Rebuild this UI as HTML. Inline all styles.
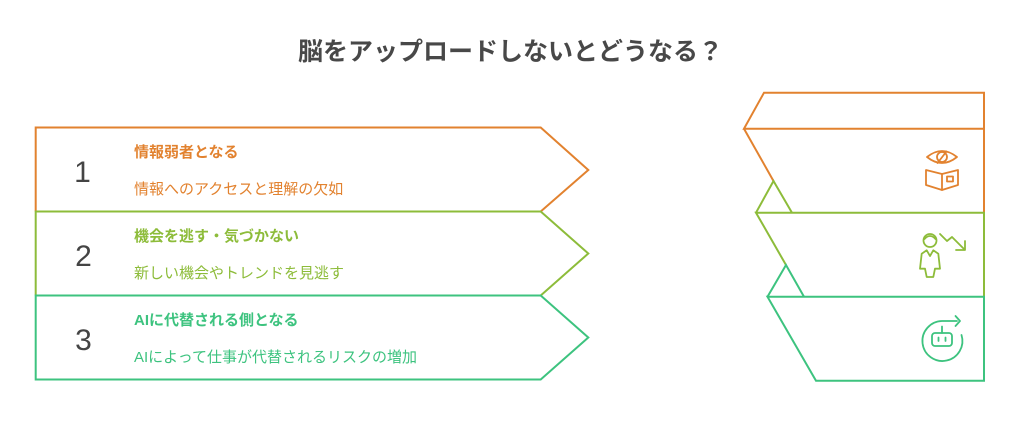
<!DOCTYPE html>
<html>
<head>
<meta charset="utf-8">
<style>
  html, body { margin: 0; padding: 0; background: #ffffff; }
  body { width: 1020px; height: 432px; overflow: hidden; }
  svg { display: block; }
  text { font-family: "Liberation Sans", "Noto Sans CJK JP", sans-serif; }
</style>
</head>
<body>
<svg width="1020" height="432" viewBox="0 0 1020 432" xmlns="http://www.w3.org/2000/svg">
  <rect width="1020" height="432" fill="#ffffff"/>

  <!-- Title -->
  <text x="510.5" y="60" text-anchor="middle" font-size="25" font-weight="bold" fill="#484848">脳をアップロードしないとどうなる？</text>

  <!-- Left arrow rows -->
  <g fill="none" stroke-width="2" stroke-linejoin="miter">
    <path d="M35.7,211.5 L35.7,127.5 L540.7,127.5 L588.3,170 L540.7,211.5" stroke="#E2822F"/>
    <path d="M35.7,295.5 L35.7,211.5 L540.7,211.5 L588.3,253.5 L540.7,295.5" stroke="#8DBC3A"/>
    <path d="M35.7,295.5 L540.7,295.5 L588.3,337.5 L540.7,379.5 L35.7,379.5 Z" stroke="#3DC37F"/>
  </g>

  <!-- Numbers -->
  <g font-size="30" fill="#444444" text-anchor="middle">
    <text x="82.5" y="182">1</text>
    <text x="83.5" y="266">2</text>
    <text x="83.5" y="350">3</text>
  </g>

  <!-- Row texts -->
  <g font-size="15">
    <text x="134" y="157" font-weight="bold" fill="#E2822F">情報弱者となる</text>
    <text x="134" y="194" fill="#E2822F">情報へのアクセスと理解の欠如</text>
    <text x="134" y="241" font-weight="bold" fill="#8DBC3A">機会を逃す・気づかない</text>
    <text x="134" y="278" fill="#8DBC3A">新しい機会やトレンドを見逃す</text>
    <text x="134" y="325" font-weight="bold" fill="#3DC37F">AIに代替される側となる</text>
    <text x="134" y="362" fill="#3DC37F">AIによって仕事が代替されるリスクの増加</text>
  </g>

  <!-- Right stacked shape -->
  <g fill="none" stroke-width="2" stroke-linejoin="miter">
    <!-- orange -->
    <path d="M984,212.7 L984,92.7 L764,92.7 L744,128.7 L984,128.7" stroke="#E2822F"/>
    <path d="M744,128.7 L773.5,181" stroke="#E2822F"/>
    <!-- green -->
    <path d="M756,212.7 L773.5,181 L792,212.7" stroke="#8DBC3A"/>
    <path d="M984,296.7 L984,212.7 L756,212.7 L786,265" stroke="#8DBC3A"/>
    <!-- teal -->
    <path d="M767.5,296.7 L786,265 L804,296.7" stroke="#3DC37F"/>
    <path d="M767.5,296.7 L984,296.7 L984,380.7 L816,380.7 Z" stroke="#3DC37F"/>
  </g>

  <!-- Icon 1: eye + book (orange) -->
  <g fill="none" stroke="#E2822F" stroke-width="1.8" stroke-linejoin="round" stroke-linecap="round">
    <path d="M927,157 Q942,145 957,157 Q942,169 927,157 Z"/>
    <circle cx="942" cy="157" r="5"/>
    <path d="M946.5,151.5 L937.5,163"/>
    <path d="M926,170 L942,174 L958,170 L958,185 L942,190 L926,185 Z"/>
    <path d="M942,174 L942,190"/>
    <rect x="947" y="176.5" width="6" height="5"/>
  </g>

  <!-- Icon 2: person + down trend (green) -->
  <g fill="none" stroke="#8DBC3A" stroke-width="1.8" stroke-linejoin="round" stroke-linecap="round">
    <circle cx="930" cy="240.5" r="6.5"/>
    <path d="M924.5,239 Q930,233 935.5,239"/>
    <path d="M926.7,250.3 L921.7,253.7 L920,268.7 L925,268.7 L926.7,277 L933.3,277 L935,268.7 L940,268.7 L938.3,253.7 L933.3,250.3 L930,256 Z"/>
    <path d="M940,234 L947,241 L952,237 L964,249"/>
    <path d="M956,250 L965,250 L965,241"/>
  </g>

  <!-- Icon 3: robot + refresh (teal) -->
  <g fill="none" stroke="#3DC37F" stroke-width="1.8" stroke-linejoin="round" stroke-linecap="round">
    <path d="M957,321 L942,321 A20,20 0 1 0 961.5,335"/>
    <path d="M955.5,316 L960,321 L955.5,326"/>
    <rect x="932" y="333" width="20" height="13" rx="3"/>
    <path d="M942,326.5 L942,333"/>
    <path d="M938.5,337.5 L938.5,341"/>
    <path d="M945.5,337.5 L945.5,341"/>
  </g>
</svg>
</body>
</html>
